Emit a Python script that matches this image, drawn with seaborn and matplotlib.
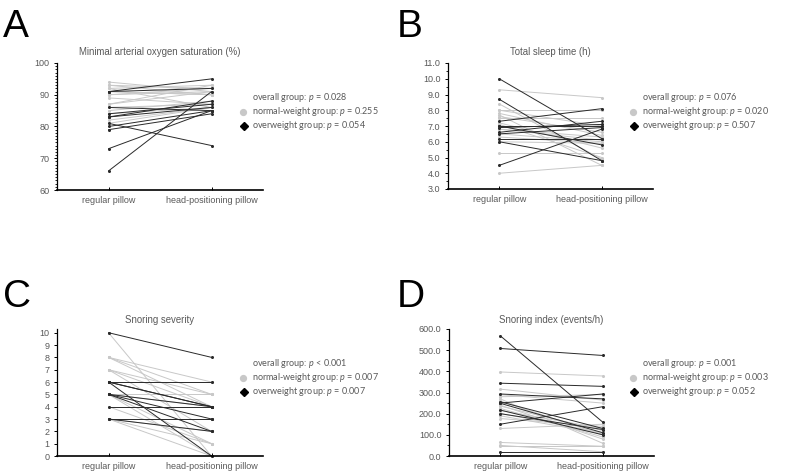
import matplotlib
matplotlib.use("Agg")
import matplotlib.pyplot as plt
import matplotlib.ticker as mticker
import pandas as pd
import seaborn as sns

# pillow conditions and groups
pillows = ["regular pillow", "head-positioning pillow"]
groups = ["normal-weight", "overweight"]

# A: minimal arterial oxygen saturation (%)
a_over_reg = [66, 73, 81, 79, 80, 83, 84, 86, 91, 91, 83]
a_over_head = [91, 85, 74, 84, 85, 88, 87, 85, 95, 92, 86]
a_norm_reg = [94, 93, 92, 91, 90, 92, 87, 86, 85, 82, 81, 90, 91, 84, 87, 93, 89]
a_norm_head = [91, 92, 93, 90, 91, 86, 93, 87, 88, 86, 86, 92, 90, 86, 91, 90, 87]

# B: total sleep time (h)
b_over_reg = [10.0, 8.7, 7.3, 4.5, 6.9, 6.5, 7.0, 6.2, 6.0, 6.6, 7.0]
b_over_head = [6.2, 4.8, 8.1, 6.8, 7.1, 6.9, 7.0, 6.2, 4.8, 7.3, 5.8]
b_norm_reg = [9.3, 8.4, 8.0, 7.7, 7.5, 6.8, 6.3, 5.3, 4.0, 7.6, 6.5, 7.2, 8.0, 6.8, 7.1, 6.0, 7.8]
b_norm_head = [8.8, 4.9, 8.0, 4.5, 7.5, 6.1, 5.9, 5.3, 4.5, 6.6, 6.0, 5.6, 7.0, 6.3, 5.0, 5.9, 6.4]

# C: snoring severity
c_over_reg = [10, 6, 6, 6, 5, 5, 4, 3, 5, 6, 3]
c_over_head = [8, 6, 4, 0, 4, 2, 4, 3, 3, 4, 2]
c_norm_reg = [10, 8, 8, 7, 7, 6, 5, 5, 3, 3, 5, 8, 3, 7, 4, 5, 3]
c_norm_head = [0, 5, 4, 5, 4, 6, 5, 1, 2, 0, 0, 6, 1, 2, 1, 4, 3]

# D: snoring index (events/h)
d_over_reg = [568, 508, 344, 293, 250, 150, 256, 249, 217, 19, 200]
d_over_head = [160, 475, 329, 270, 293, 233, 130, 110, 100, 19, 125]
d_norm_reg = [397, 316, 280, 236, 225, 201, 177, 130, 64, 46, 270, 240, 260, 290, 215, 190, 50]
d_norm_head = [378, 264, 290, 120, 90, 110, 140, 150, 46, 46, 60, 80, 100, 250, 130, 105, 20]

titles = ["Minimal arterial oxygen saturation (%)", "Total sleep time (h)",
          "Snoring severity", "Snoring index (events/h)"]
letters = ["A", "B", "C", "D"]
p_overall = ["p = 0.028", "p = 0.076", "p < 0.001", "p = 0.001"]
p_normal = ["p = 0.255", "p = 0.020", "p = 0.007", "p = 0.003"]
p_over = ["p = 0.054", "p = 0.507", "p = 0.007", "p = 0.052"]

GRAY = "#c8c8c8"
DARK = "#2a2a2a"
TXT = "#595959"

sns.set_style("white")
plt.rcParams["font.family"] = ["Liberation Sans", "DejaVu Sans"]
plt.rcParams["mathtext.fontset"] = "custom"
plt.rcParams["mathtext.it"] = "Lato:italic"
plt.rcParams["mathtext.rm"] = "Lato"


def long_df(norm_reg, norm_head, over_reg, over_head):
    rows = []
    sid = 0
    for reg, head, g in [(norm_reg, norm_head, groups[0]), (over_reg, over_head, groups[1])]:
        for r, h in zip(reg, head):
            rows.append((sid, pillows[0], r, g))
            rows.append((sid, pillows[1], h, g))
            sid += 1
    return pd.DataFrame(rows, columns=["subject", "pillow", "value", "group"])


fig = plt.figure(figsize=(7.87, 4.75), dpi=100)
W, H = 787, 475

# axes boxes in pixels: left, top, right, bottom
boxes = [(57, 63, 263, 190), (448, 63, 653, 189), (57, 329, 263, 456), (449, 329, 654, 456)]
ylims = [(60, 100), (3, 11), (0, 10.3), (0, 600)]
majors = [10, 1, 1, 100]
minors = [1, 0.5, None, 50]
fmts = ["%d", "%.1f", "%d", "%.1f"]
data = [
    (a_norm_reg, a_norm_head, a_over_reg, a_over_head),
    (b_norm_reg, b_norm_head, b_over_reg, b_over_head),
    (c_norm_reg, c_norm_head, c_over_reg, c_over_head),
    (d_norm_reg, d_norm_head, d_over_reg, d_over_head),
]

for i in range(4):
    l, t, r, b = boxes[i]
    ax = fig.add_axes([l / W, 1 - b / H, (r - l) / W, (b - t) / H])
    df = long_df(*data[i])
    sns.lineplot(data=df, x="pillow", y="value", hue="group", units="subject",
                 estimator=None, hue_order=groups, palette=[GRAY, DARK],
                 marker="o", markersize=2.2, markeredgewidth=0, linewidth=0.7,
                 legend=False, ax=ax)
    for ln in ax.lines:
        ln.set_clip_on(False)
    ax.set_xlim(-0.5, 1.5)
    ax.set_ylim(*ylims[i])
    ax.yaxis.set_major_locator(mticker.MultipleLocator(majors[i]))
    if minors[i]:
        ax.yaxis.set_minor_locator(mticker.MultipleLocator(minors[i]))
    ax.yaxis.set_major_formatter(mticker.FormatStrFormatter(fmts[i]))
    ax.set_xlabel("")
    ax.set_ylabel("")
    for s in ["top", "right"]:
        ax.spines[s].set_visible(False)
    ax.spines["left"].set_color("black")
    ax.spines["left"].set_linewidth(0.9)
    ax.spines["bottom"].set_color("black")
    ax.spines["bottom"].set_linewidth(1.2)
    ax.tick_params(axis="y", which="major", direction="out", length=2.5, width=0.7,
                   colors="black", labelcolor=TXT, labelsize=6.5, pad=3, left=True)
    ax.tick_params(axis="y", which="minor", direction="out", length=1.5, width=0.6,
                   colors="black", left=True)
    ax.tick_params(axis="x", direction="in", length=2.5, width=0.7, colors="black",
                   labelcolor=TXT, labelsize=6.5, pad=4, bottom=True)
    ax.set_title(titles[i], fontsize=6.9, color=TXT, pad=6 if i < 2 else 4)

    # panel letter
    lx = 3 if i % 2 == 0 else 397
    ly = 27 if i < 2 else 297
    fig.text(lx / W, 1 - ly / H, letters[i], fontsize=28, va="center", ha="left", color="black")

    # legend text block
    tx = 252 if i % 2 == 0 else 642
    ty = [98, 111.7, 125.7] if i < 2 else [364, 377.5, 392]
    texts = ["overall group: $%s$ %s" % tuple(p_overall[i].split(" ", 1)),
             "normal-weight group: $%s$ %s" % tuple(p_normal[i].split(" ", 1)),
             "overweight group: $%s$ %s" % tuple(p_over[i].split(" ", 1))]
    for k in range(3):
        fig.text(tx / W, 1 - ty[k] / H, texts[k], fontsize=6.5, color=TXT,
                 family=["Lato", "DejaVu Sans"], va="center", ha="left")
    mx = tx - 9
    ax.plot([mx / W], [1 - ty[1] / H], marker="o", markersize=4.2, color=GRAY,
            transform=fig.transFigure, clip_on=False)
    ax.plot([(mx + 1) / W], [1 - ty[2] / H], marker="D", markersize=4.2, color="black",
            transform=fig.transFigure, clip_on=False)

fig.savefig("out.png", dpi=100)
